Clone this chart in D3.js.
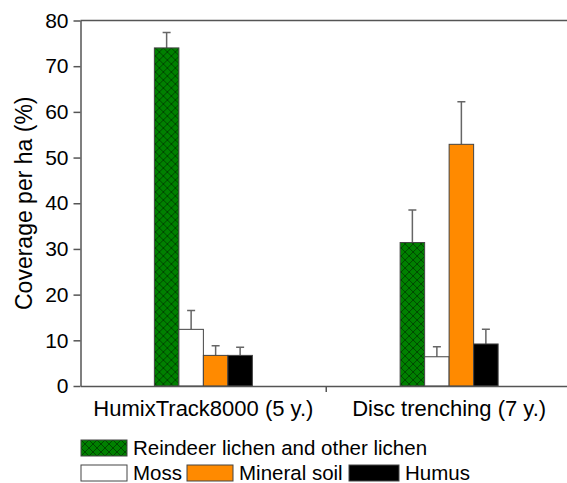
<!DOCTYPE html>
<html>
<head>
<meta charset="utf-8">
<script src="https://cdn.jsdelivr.net/npm/d3@7"></script>
<style>
  body { margin: 0; background: #fff; }
  text { font-family: "Liberation Sans", Arial, sans-serif; fill: #000; }
</style>
</head>
<body>
<div id="chart"></div>
<script>
// Data
const categories = ["HumixTrack8000 (5 y.)", "Disc trenching (7 y.)"];
const series = ["Reindeer lichen and other lichen", "Moss", "Mineral soil", "Humus"];
const means = [
  [74.0, 12.4, 6.7, 6.7],
  [31.4, 6.4, 52.9, 9.2]
];
const errors = [
  [3.4, 4.1, 2.1, 1.8],
  [7.1, 2.2, 9.3, 3.2]
];
const yTicks = [0, 10, 20, 30, 40, 50, 60, 70, 80];

const W = 567, H = 483;
const margin = {top: 20.5, left: 80.5, bottom: 97};
const colors = {"Reindeer lichen and other lichen": "url(#hatch)", "Moss": "#ffffff", "Mineral soil": "#ff8a00", "Humus": "#000000"};

const svg = d3.select("#chart").append("svg")
  .attr("width", W)
  .attr("height", H);

// crosshatch pattern for the lichen bars
const defs = svg.append("defs");
const pat = defs.append("pattern")
  .attr("id", "hatch")
  .attr("patternUnits", "userSpaceOnUse")
  .attr("width", 8).attr("height", 8);
pat.append("rect").attr("width", 8).attr("height", 8).attr("fill", "#008000");
pat.append("path")
  .attr("d", "M0,0L8,8M8,0L0,8M-1,7L1,9M7,-1L9,1")
  .attr("stroke", "#003a00")
  .attr("stroke-width", 0.8);

const y = d3.scaleLinear()
  .domain([0, 80])
  .range([H - margin.bottom, margin.top]);

const x = d3.scaleBand()
  .domain(categories)
  .range([margin.left, 572])
  .padding(0);

const xs = d3.scaleBand()
  .domain(series)
  .range([-49, 49]);

// top frame line
svg.append("line")
  .attr("x1", margin.left).attr("x2", W)
  .attr("y1", y(80)).attr("y2", y(80))
  .attr("stroke", "#555").attr("stroke-width", 1.5);

// bars
const groups = svg.selectAll(".grp")
  .data(categories)
  .enter().append("g")
  .attr("class", "grp")
  .attr("transform", d => `translate(${x(d) + x.bandwidth() / 2},0)`);

groups.each(function (cat, ci) {
  const g = d3.select(this);
  const rows = series.map((s, si) => ({s, v: means[ci][si], e: errors[ci][si]}));

  // error bars (upper only)
  g.selectAll(".err")
    .data(rows)
    .enter().append("path")
    .attr("class", "err")
    .attr("d", d => {
      const cx = xs(d.s) + xs.bandwidth() / 2;
      return `M${cx},${y(d.v)}V${y(d.v + d.e)}M${cx - 4},${y(d.v + d.e)}H${cx + 4}`;
    })
    .attr("fill", "none")
    .attr("stroke", "#666")
    .attr("stroke-width", 1.5);

  g.selectAll(".bar")
    .data(rows)
    .enter().append("rect")
    .attr("class", "bar")
    .attr("x", d => xs(d.s))
    .attr("y", d => y(d.v))
    .attr("width", xs.bandwidth())
    .attr("height", d => y(0) - y(d.v))
    .attr("fill", d => colors[d.s])
    .attr("stroke", "#444")
    .attr("stroke-width", 1);
});

// y axis
const yAxis = svg.append("g")
  .attr("transform", `translate(${margin.left},0)`)
  .call(d3.axisLeft(y).tickValues(yTicks).tickSize(7).tickPadding(5).tickSizeOuter(0));
yAxis.select(".domain").attr("stroke", "#555").attr("stroke-width", 1.5);
yAxis.selectAll(".tick line").attr("stroke", "#555").attr("stroke-width", 1.5);
yAxis.selectAll("text").attr("font-size", "21px").attr("fill", "#000")
  .style("font-family", "'Liberation Sans', Arial, sans-serif");

// x axis
const xAxis = svg.append("g")
  .attr("transform", `translate(0,${y(0)})`)
  .call(d3.axisBottom(x).tickSize(0).tickPadding(14).tickSizeOuter(0));
xAxis.select(".domain").attr("stroke", "#555").attr("stroke-width", 1.5);
xAxis.selectAll("text").attr("font-size", "22px").attr("fill", "#000")
  .style("font-family", "'Liberation Sans', Arial, sans-serif");
// divider tick between the two groups
xAxis.append("line")
  .attr("x1", x(categories[1])).attr("x2", x(categories[1]))
  .attr("y1", 0).attr("y2", 6)
  .attr("stroke", "#555").attr("stroke-width", 1.5);

// y axis title
svg.append("text")
  .attr("transform", `translate(32,${(y(0) + y(80)) / 2}) rotate(-90)`)
  .attr("text-anchor", "middle")
  .attr("font-size", "23px")
  .text("Coverage per ha (%)");

// legend
const legendPos = [
  {x: 81, y: 440},
  {x: 81, y: 465},
  {x: 187, y: 465},
  {x: 349, y: 465}
];
const boxW = [46, 46, 46, 50];
const leg = svg.selectAll(".leg")
  .data(series)
  .enter().append("g")
  .attr("class", "leg")
  .attr("transform", (d, i) => `translate(${legendPos[i].x},${legendPos[i].y})`);
leg.append("rect")
  .attr("width", (d, i) => boxW[i])
  .attr("height", 16)
  .attr("fill", d => colors[d])
  .attr("stroke", "#444")
  .attr("stroke-width", 1);
leg.append("text")
  .attr("x", (d, i) => boxW[i] + 6)
  .attr("y", 15)
  .attr("font-size", "20.5px")
  .text(d => d);
</script>
</body>
</html>
